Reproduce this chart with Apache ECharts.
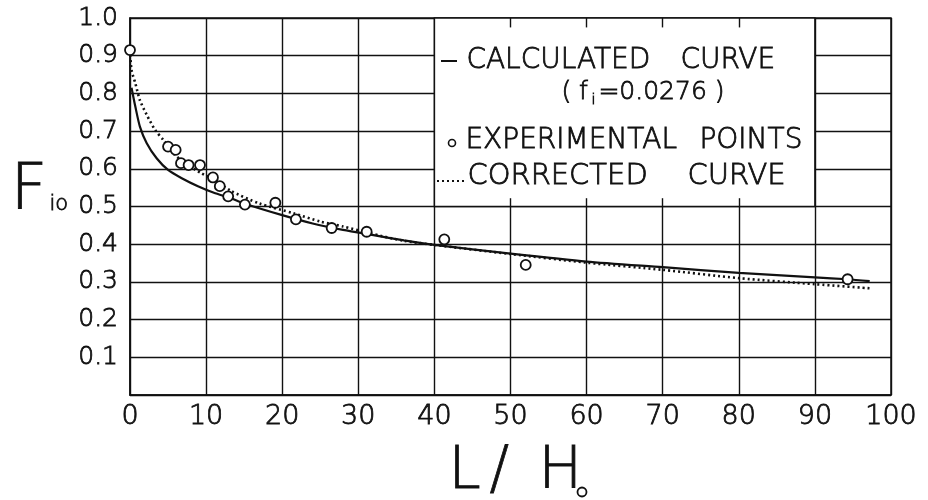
<!DOCTYPE html>
<html>
<head>
<meta charset="utf-8">
<title>Fio vs L/Ho</title>
<script src="https://cdn.jsdelivr.net/npm/echarts@6/dist/echarts.min.js"></script>
<style>
  html, body { margin: 0; padding: 0; background: #fff; }
  #main { width: 928px; height: 500px; }
</style>
</head>
<body>
<div id="main"></div>
<script>
// data
var expX = [0, 5.0, 6.0, 6.7, 7.7, 9.2, 10.9, 11.8, 12.9, 15.1, 19.1, 21.8, 26.5, 31.1, 41.3, 52.0, 94.3];
var expY = [0.915, 0.659, 0.650, 0.615, 0.610, 0.610, 0.577, 0.554, 0.527, 0.505, 0.510, 0.466, 0.443, 0.433, 0.413, 0.345, 0.307];

var calcX = [0.2, 0.7, 1.3, 2.2, 3.5, 5, 6.8, 9, 11.2, 13, 15, 20, 24, 28, 32, 36, 40, 50, 60, 70, 80, 90, 94.3, 97.2];
var calcY = [0.815, 0.765, 0.712, 0.668, 0.628, 0.597, 0.575, 0.553, 0.535, 0.524, 0.508, 0.477, 0.455, 0.438, 0.424, 0.410, 0.398, 0.375, 0.354, 0.339, 0.324, 0.312, 0.307, 0.302];

var corrX = [0, 0.2, 0.7, 1.3, 2.2, 3.3, 4.4, 5.7, 7.2, 9.4, 11.2, 13.2, 17, 21.5, 25, 28, 31.5, 36, 40, 50, 60, 70, 80, 90, 97.2];
var corrY = [0.915, 0.862, 0.827, 0.782, 0.743, 0.703, 0.676, 0.641, 0.615, 0.588, 0.570, 0.542, 0.508, 0.482, 0.460, 0.447, 0.429, 0.409, 0.398, 0.374, 0.351, 0.332, 0.310, 0.294, 0.283];

// ticks
var xTicks = [0, 10, 20, 30, 40, 50, 60, 70, 80, 90, 100];
var yTicks = ['', '0.1', '0.2', '0.3', '0.4', '0.5', '0.6', '0.7', '0.8', '0.9', '1.0'];

// legend box sits on the grid: x 40..90, y 0.5..1.0
var boxX = [40, 90];
var boxY = [0.5, 1.0];
var stubX = [50, 60, 70, 80];

function pairs(xs, ys) {
  return xs.map(function (x, i) { return [x, ys[i]]; });
}

var font = 'DejaVu Sans';
var ink = '#111';

var chart = echarts.init(document.getElementById('main'));

// short stubs of the vertical grid lines inside the legend box
var stubs = [];
stubX.forEach(function (x) {
  stubs.push([{ coord: [x, boxY[1]] }, { coord: [x, boxY[1] - 0.025] }]);
  stubs.push([{ coord: [x, boxY[0]] }, { coord: [x, boxY[0] + 0.022] }]);
});

// thin lettering, slightly thickened with a stroke
function txt(left, top, s, size) {
  return { type: 'text', left: left, top: top, z: 100,
    style: { text: s, font: '200 ' + size + 'px ' + font, fill: ink, stroke: ink, lineWidth: 0.8 } };
}

var option = {
  backgroundColor: '#fff',
  animation: false,
  grid: {
    left: 130, right: 37, top: 18, bottom: 105,
    show: true, borderColor: ink, borderWidth: 1.5
  },
  xAxis: {
    type: 'value', min: 0, max: 100, interval: 10,
    axisLine: { lineStyle: { color: ink, width: 1.5 } },
    axisTick: { show: false },
    splitLine: { lineStyle: { color: ink, width: 1.4 } },
    axisLabel: {
      color: ink, fontFamily: font, fontWeight: 200, fontSize: 27, margin: 8,
      textBorderColor: ink, textBorderWidth: 0.8,
      formatter: function (v) { return xTicks.indexOf(v) >= 0 ? String(v) : ''; }
    }
  },
  yAxis: {
    type: 'value', min: 0, max: 1, interval: 0.1,
    axisLine: { lineStyle: { color: ink, width: 1.5 } },
    axisTick: { show: false },
    splitLine: { lineStyle: { color: ink, width: 1.4 } },
    axisLabel: {
      color: ink, fontFamily: font, fontWeight: 200, fontSize: 25, margin: 12,
      textBorderColor: ink, textBorderWidth: 0.8,
      formatter: function (v) { return yTicks[Math.round(v * 10)]; }
    }
  },
  series: [
    {
      name: 'box',
      type: 'line',
      data: [],
      silent: true,
      markArea: {
        silent: true,
        itemStyle: { color: '#fff', borderColor: ink, borderWidth: 1.5 },
        data: [[{ coord: [boxX[0], boxY[1]] }, { coord: [boxX[1], boxY[0]] }]]
      },
      markLine: {
        silent: true,
        symbol: 'none',
        label: { show: false },
        lineStyle: { color: ink, width: 1.4, type: 'solid' },
        data: stubs
      }
    },
    {
      name: 'CALCULATED CURVE',
      type: 'line',
      data: pairs(calcX, calcY),
      smooth: 0.25,
      showSymbol: false,
      lineStyle: { color: ink, width: 2.2 },
      z: 3
    },
    {
      name: 'CORRECTED CURVE',
      type: 'line',
      data: pairs(corrX, corrY),
      smooth: 0.25,
      showSymbol: false,
      lineStyle: { color: ink, width: 2.6, type: [2, 3] },
      z: 3
    },
    {
      name: 'EXPERIMENTAL POINTS',
      type: 'scatter',
      data: pairs(expX, expY),
      symbol: 'circle',
      symbolSize: 10,
      itemStyle: { color: '#fff', opacity: 1, borderColor: ink, borderWidth: 1.8 },
      z: 4
    }
  ],
  graphic: [
    // axis titles
    txt(10, 160, 'F', 64),
    txt(49, 194, 'io', 21),
    txt(448, 444, 'L', 58),
    txt(489, 444, '/', 58),
    txt(538, 444, 'H', 58),
    { type: 'circle', z: 100, shape: { cx: 582, cy: 492, r: 4.5 }, style: { fill: 'none', stroke: ink, lineWidth: 1.8 } },

    // legend (words placed apart, like the wide hand lettering)
    { type: 'line', z: 100, shape: { x1: 441, y1: 61, x2: 457, y2: 61 }, style: { stroke: ink, lineWidth: 2 } },
    txt(466, 46, 'CALCULATED', 28),
    txt(680, 46, 'CURVE', 28),
    txt(561, 80, '( f', 25),
    txt(591, 93, 'i', 14),
    txt(598, 80, '=0.0276 )', 25),
    { type: 'circle', z: 100, shape: { cx: 452, cy: 143, r: 3.5 }, style: { fill: '#fff', stroke: ink, lineWidth: 1.6 } },
    txt(465, 126, 'EXPERIMENTAL', 28),
    txt(699, 126, 'POINTS', 28),
    { type: 'line', z: 100, shape: { x1: 437, y1: 181, x2: 465, y2: 181 }, style: { stroke: ink, lineWidth: 2, lineDash: [2, 3] } },
    txt(467, 162, 'CORRECTED', 29),
    txt(687, 162, 'CURVE', 29)
  ]
};

chart.setOption(option);
</script>
</body>
</html>
